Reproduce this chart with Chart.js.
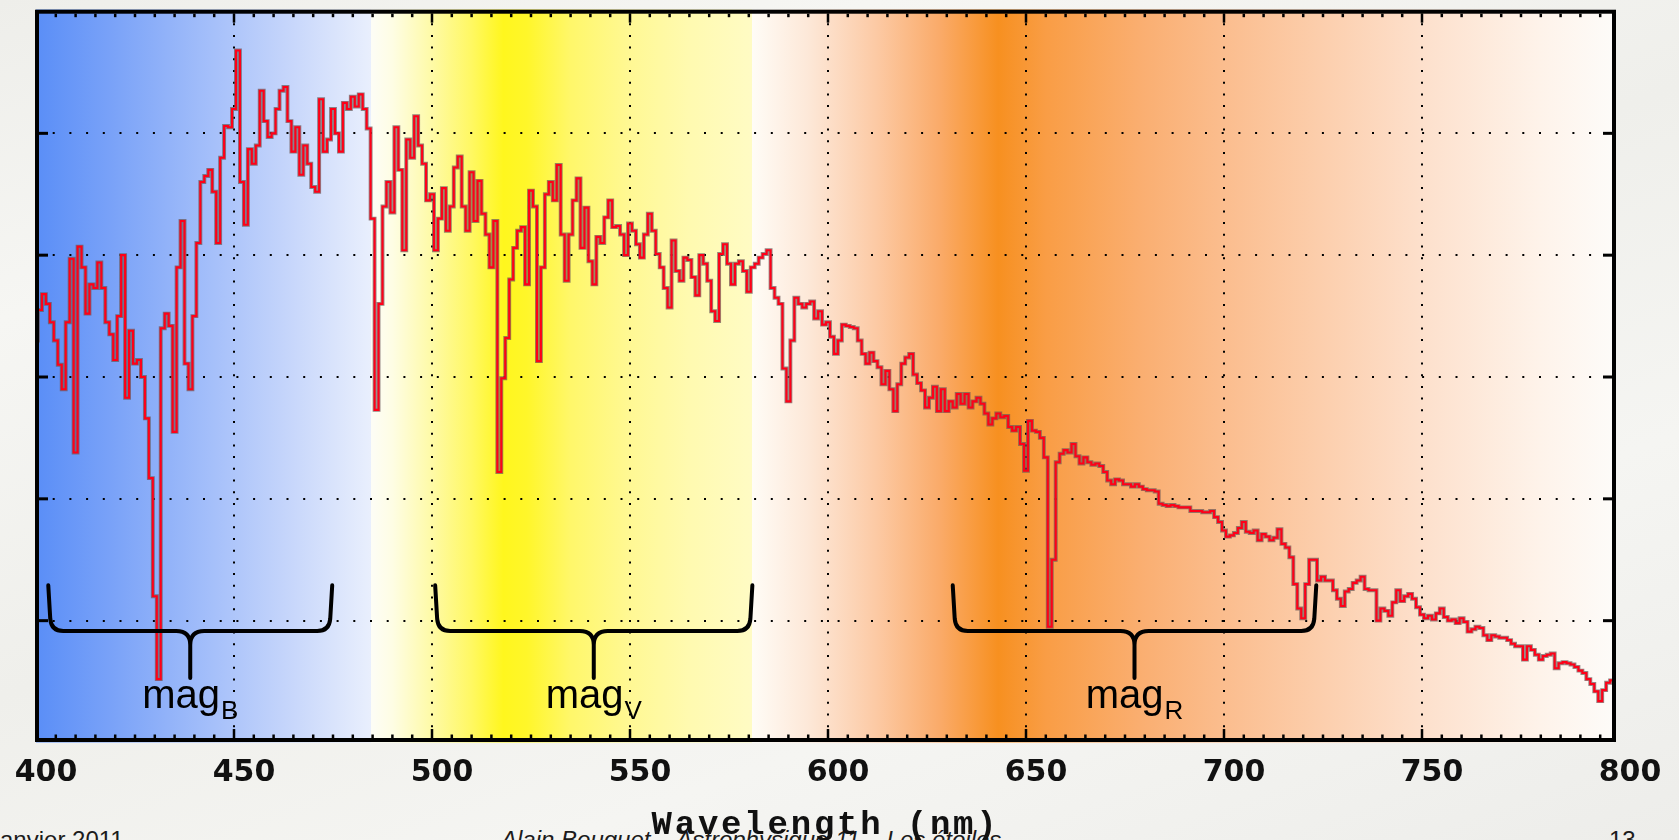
<!DOCTYPE html>
<html lang="fr">
<head>
<meta charset="UTF-8">
<title>Spectre et bandes B V R</title>
<script src="https://cdn.jsdelivr.net/npm/chart.js@4.4.0/dist/chart.umd.min.js"></script>
<style>
  html, body { margin: 0; padding: 0; }
  body {
    width: 1679px; height: 840px; overflow: hidden; position: relative;
    background: linear-gradient(160deg, #eeeeea 0%, #f6f6f3 22%, #efefeb 48%, #f5f5f2 72%, #ededea 100%);
    font-family: "Liberation Sans", Arial, sans-serif;
  }
  .foot { position: absolute; top: 828px; font-size: 24px; line-height: 1; color: #1c1c1c; white-space: nowrap; }
  #wrap { position: absolute; left: 0; top: 0; width: 1679px; height: 840px; }
</style>
</head>
<body>
<div class="foot" style="left:-12px">Janvier 2011</div>
<div class="foot" style="left:501px; font-style:italic">Alain Bouquet – Astrophysique 11 – Les étoiles</div>
<div class="foot" style="left:1609px">13</div>
<div id="wrap"><canvas id="spectre" width="1679" height="840"></canvas></div>
<script>
// sampling grid of the spectrum (nm)
const WL_START = 400;
const WL_STEP = 1;

// relative flux (grid units, 0 = bottom, 6 = top)
const fluxBlue = [ // 400-499
  3.30, 3.55, 3.68, 3.60, 3.45, 3.30, 3.10, 2.90, 3.45, 3.97,
  2.38, 4.07, 3.90, 3.52, 3.76, 3.73, 3.94, 3.73, 3.45, 3.35,
  3.14, 3.50, 4.00, 2.83, 3.38, 3.11, 3.14, 3.00, 2.66, 2.17,
  1.20, 0.52, 3.40, 3.52, 3.42, 2.55, 3.90, 4.28, 3.11, 2.90,
  3.50, 4.10, 4.60, 4.65, 4.70, 4.52, 4.10, 4.80, 5.06, 5.05,
  5.20, 5.68, 4.60, 4.25, 4.87, 4.75, 4.90, 5.35, 5.10, 4.97,
  5.00, 5.20, 5.35, 5.38, 5.10, 4.85, 5.05, 4.66, 4.90, 4.75,
  4.56, 4.52, 5.28, 4.85, 4.95, 5.20, 5.00, 4.85, 5.25, 5.20,
  5.30, 5.22, 5.32, 5.20, 5.04, 4.30, 2.73, 3.60, 4.40, 4.60,
  4.35, 5.05, 4.70, 4.04, 4.95, 4.80, 5.14, 4.90, 4.75, 4.45
];
const fluxVisible = [ // 500-599
  4.50, 4.04, 4.30, 4.55, 4.20, 4.40, 4.72, 4.81, 4.40, 4.20,
  4.68, 4.28, 4.61, 4.34, 4.17, 3.90, 4.28, 2.22, 2.99, 3.32,
  3.80, 4.06, 4.20, 4.23, 3.76, 4.53, 4.40, 3.13, 3.90, 4.50,
  4.60, 4.45, 4.74, 4.17, 3.79, 4.17, 4.45, 4.63, 4.06, 4.39,
  3.95, 3.76, 4.15, 4.10, 4.31, 4.45, 4.23, 4.24, 4.17, 4.00,
  4.26, 4.20, 4.09, 3.98, 4.17, 4.34, 4.20, 4.01, 3.90, 3.73,
  3.57, 4.12, 3.87, 3.79, 3.98, 3.96, 3.82, 3.67, 4.00, 3.93,
  3.79, 3.54, 3.46, 4.01, 4.09, 3.93, 3.76, 3.93, 3.95, 3.87,
  3.70, 3.90, 3.93, 3.98, 4.01, 4.04, 3.73, 3.65, 3.60, 3.07,
  2.80, 3.30, 3.65, 3.60, 3.57, 3.60, 3.62, 3.48, 3.54, 3.43
];
const fluxRed = [ // 600-699
  3.45, 3.33, 3.19, 3.30, 3.43, 3.42, 3.41, 3.40, 3.30, 3.19,
  3.11, 3.20, 3.13, 3.08, 2.94, 3.05, 2.90, 2.72, 2.94, 3.11,
  3.16, 3.19, 3.02, 2.95, 2.89, 2.75, 2.83, 2.92, 2.72, 2.90,
  2.72, 2.80, 2.75, 2.86, 2.78, 2.86, 2.75, 2.80, 2.83, 2.78,
  2.70, 2.61, 2.66, 2.70, 2.67, 2.68, 2.59, 2.56, 2.59, 2.45,
  2.23, 2.64, 2.56, 2.55, 2.50, 2.34, 0.95, 1.50, 2.30, 2.37,
  2.40, 2.38, 2.45, 2.35, 2.29, 2.34, 2.30, 2.28, 2.29, 2.27,
  2.22, 2.15, 2.12, 2.16, 2.15, 2.12, 2.12, 2.10, 2.12, 2.10,
  2.08, 2.07, 2.07, 2.06, 1.96, 1.95, 1.94, 1.95, 1.94, 1.93,
  1.93, 1.93, 1.90, 1.90, 1.90, 1.89, 1.89, 1.90, 1.85, 1.81
];
const fluxNearIR = [ // 700-800
  1.74, 1.69, 1.70, 1.72, 1.76, 1.81, 1.73, 1.72, 1.74, 1.66,
  1.71, 1.69, 1.66, 1.68, 1.75, 1.63, 1.60, 1.52, 1.30, 1.10,
  1.02, 1.30, 1.50, 1.50, 1.33, 1.36, 1.33, 1.33, 1.25, 1.18,
  1.12, 1.24, 1.26, 1.31, 1.33, 1.36, 1.26, 1.25, 1.25, 1.00,
  1.10, 1.08, 1.04, 1.15, 1.25, 1.16, 1.20, 1.22, 1.18, 1.11,
  1.05, 1.02, 1.04, 1.01, 1.06, 1.10, 1.03, 1.00, 1.01, 0.98,
  1.02, 0.99, 0.91, 0.93, 0.95, 0.94, 0.88, 0.84, 0.88, 0.87,
  0.86, 0.86, 0.84, 0.81, 0.79, 0.79, 0.68, 0.79, 0.76, 0.72,
  0.68, 0.71, 0.72, 0.73, 0.61, 0.65, 0.66, 0.65, 0.64, 0.62,
  0.59, 0.57, 0.52, 0.48, 0.42, 0.34, 0.43, 0.49, 0.51, 0.51,
  0.51
];

const xTickValues = [400, 450, 500, 550, 600, 650, 700, 750, 800];
const xTitle = 'Wavelength (nm)';

// photometric bands under the braces
const bandNames = ['B', 'V', 'R'];
const bandStart = [403.1, 500.8, 631.5];
const bandEnd = [474.8, 580.9, 723.3];

const flux = [...fluxBlue, ...fluxVisible, ...fluxRed, ...fluxNearIR];
const spectrum = flux.map((f, i) => ({ x: WL_START + i * WL_STEP, y: f }));

// coloured bands behind the plot
const bgPlugin = {
  id: 'bandBackground',
  beforeDraw(chart) {
    const { ctx, chartArea: a, scales: { x } } = chart;
    const stops = [
      [400, '#5a8ef7'], [420, '#7ba3f8'], [445, '#a6c0fa'], [465, '#c8d7fb'], [484.6, '#e9effd'],
      [484.6, '#fdfdf6'], [490, '#fefde4'], [500, '#fefaa6'], [510, '#fff862'], [518, '#fff61e'],
      [524, '#fff62a'], [535, '#fff76a'], [550, '#fff894'], [565, '#fffab0'], [580.9, '#fffbc4'],
      [580.9, '#fffcf6'], [595, '#fde8d8'], [612, '#fccaa5'], [628, '#faab6a'], [643, '#f79020'],
      [655, '#f99d45'], [680, '#faaf72'], [700, '#fbbd8e'], [750, '#fde0cc'], [780, '#fef3ea'],
      [800, '#fdfcfa']
    ];
    const w = a.right - a.left;
    const g = ctx.createLinearGradient(a.left, 0, a.right, 0);
    stops.forEach(([nm, c]) => g.addColorStop((x.getPixelForValue(nm) - a.left) / w, c));
    ctx.save();
    ctx.fillStyle = g;
    ctx.fillRect(a.left, a.top - 2, w - 6, a.bottom - a.top + 2);
    ctx.restore();
  }
};

// black frame, inner ticks, braces, labels, axis title
const framePlugin = {
  id: 'frame',
  afterDraw(chart) {
    const { ctx, chartArea: a, scales: { x, y } } = chart;
    const L = a.left + 1, R = a.right - 6, T = a.top + 0.2, B = a.bottom - 2.5;
    ctx.save();
    ctx.clearRect(R + 2, 0, a.right - R + 4, B + 3);

    ctx.strokeStyle = '#000';
    ctx.lineWidth = 4;
    ctx.strokeRect(L, T, R - L, B - T);

    const seg = (x1, y1, x2, y2) => { ctx.beginPath(); ctx.moveTo(x1, y1); ctx.lineTo(x2, y2); ctx.stroke(); };
    ctx.lineWidth = 2.5;
    for (let nm = 405; nm < 800; nm += 5) {
      const px = x.getPixelForValue(nm);
      if (px >= R - 2) continue;
      const len = nm % 50 === 0 ? 9 : 3.5;
      seg(px, B - 2, px, B - 2 - len);
      seg(px, T + 2, px, T + 2 + len);
    }
    ctx.lineWidth = 3;
    for (let v = 1; v < 6; v++) {
      const py = y.getPixelForValue(v);
      seg(L + 2, py, L + 11, py);
      seg(R - 2, py, R - 11, py);
    }

    // braces
    ctx.lineWidth = 4;
    ctx.lineCap = 'round';
    ctx.lineJoin = 'round';
    const yTop = y.getPixelForValue(1.29), yBar = y.getPixelForValue(0.915), yTip = y.getPixelForValue(0.53);
    const yTxt = y.getPixelForValue(0.283), ySub = y.getPixelForValue(0.193);
    const r = 12, rm = 14;
    bandNames.forEach((name, i) => {
      const x1 = x.getPixelForValue(bandStart[i]);
      const x2 = x.getPixelForValue(bandEnd[i]);
      const xm = (x1 + x2) / 2;
      ctx.beginPath();
      ctx.moveTo(x1, yTop);
      ctx.lineTo(x1 + 2, yBar - r);
      ctx.quadraticCurveTo(x1 + 3, yBar, x1 + r + 3, yBar);
      ctx.lineTo(xm - rm, yBar);
      ctx.quadraticCurveTo(xm, yBar, xm, yBar + rm);
      ctx.lineTo(xm, yTip);
      ctx.moveTo(x2, yTop);
      ctx.lineTo(x2 - 2, yBar - r);
      ctx.quadraticCurveTo(x2 - 3, yBar, x2 - r - 3, yBar);
      ctx.lineTo(xm + rm, yBar);
      ctx.quadraticCurveTo(xm, yBar, xm, yBar + rm);
      ctx.stroke();

      ctx.fillStyle = '#000';
      ctx.textBaseline = 'alphabetic';
      ctx.textAlign = 'left';
      ctx.font = '40px "Liberation Sans", Arial, sans-serif';
      const wMain = ctx.measureText('mag').width;
      ctx.font = '26px "Liberation Sans", Arial, sans-serif';
      const wSub = ctx.measureText(name).width;
      const x0 = xm - (wMain + wSub + 1) / 2;
      ctx.font = '40px "Liberation Sans", Arial, sans-serif';
      ctx.fillText('mag', x0, yTxt);
      ctx.font = '26px "Liberation Sans", Arial, sans-serif';
      ctx.fillText(name, x0 + wMain + 1, ySub);
    });

    // axis title
    ctx.font = 'bold 34px "Liberation Mono", "DejaVu Sans Mono", monospace';
    if ('letterSpacing' in ctx) ctx.letterSpacing = '2.8px';
    ctx.textAlign = 'center';
    ctx.fillStyle = '#111';
    ctx.fillText(xTitle, (L + R) / 2, 834);
    ctx.restore();
  }
};

const hideEdge = (c) => (c.tick && (c.tick.value === c.scale.min || c.tick.value === c.scale.max)) ? 'rgba(0,0,0,0)' : '#000';

new Chart(document.getElementById('spectre'), {
  type: 'line',
  data: {
    datasets: [
      { data: spectrum, borderColor: '#ff0018', borderWidth: 2.1, stepped: 'middle', pointRadius: 0,
        borderJoinStyle: 'miter', order: 0, clip: { left: 0, top: 0, right: -6, bottom: 0 } },
      { data: spectrum, borderColor: 'rgba(105,85,85,0.7)', borderWidth: 3.9, stepped: 'middle', pointRadius: 0,
        borderJoinStyle: 'miter', order: 1, clip: { left: 0, top: 0, right: -6, bottom: 0 } }
    ]
  },
  options: {
    responsive: false,
    animation: false,
    devicePixelRatio: 1,
    events: [],
    layout: { padding: { left: 36, right: 59, top: 11.5, bottom: 0 } },
    plugins: { legend: { display: false }, tooltip: { enabled: false } },
    scales: {
      x: {
        type: 'linear', min: 400, max: 800,
        afterBuildTicks: (s) => { s.ticks = xTickValues.map(v => ({ value: v })); },
        afterFit: (s) => { s.height = 97.5; s.paddingLeft = 0; s.paddingRight = 0; },
        grid: { color: hideEdge, lineWidth: 2, drawTicks: false },
        border: { display: false, dash: [2, 9.7] },
        ticks: {
          color: '#111', padding: 12.5, labelOffset: 10, maxRotation: 0, autoSkip: false,
          font: { family: '"DejaVu Sans", sans-serif', weight: 'bold', size: 30 }
        }
      },
      y: {
        min: 0, max: 6,
        afterFit: (s) => { s.width = 0; },
        ticks: { display: false, stepSize: 1 },
        grid: { color: hideEdge, lineWidth: 2, drawTicks: false },
        border: { display: false, dash: [2, 14.7] }
      }
    }
  },
  plugins: [bgPlugin, framePlugin]
});
</script>
</body>
</html>
